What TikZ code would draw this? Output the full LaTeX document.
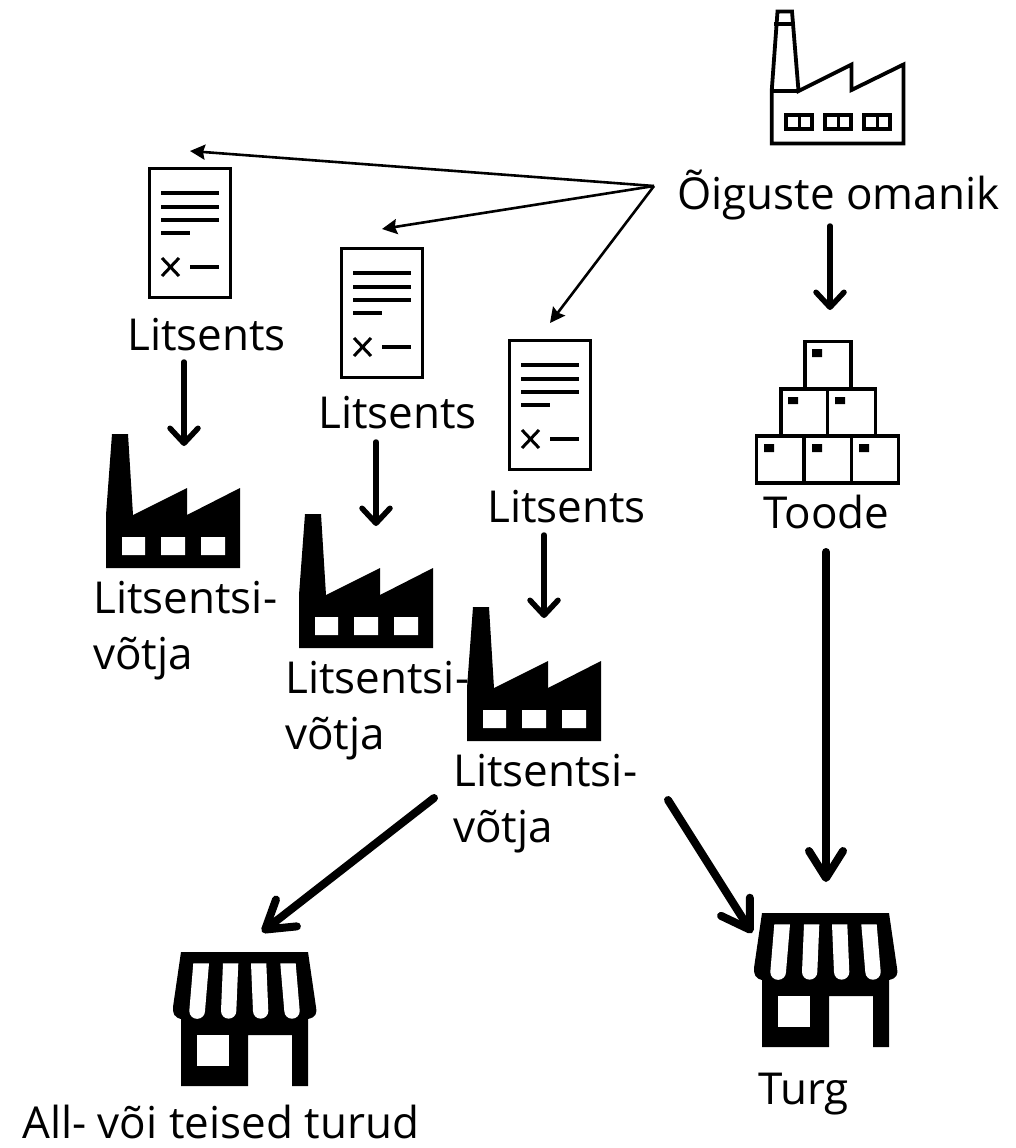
\documentclass[tikz,border=0pt]{standalone}
\usepackage{fontspec}
\setmainfont{Open Sans}
\usetikzlibrary{arrows.meta}
\tikzset{
  x=1pt,y=-1pt,
  label text/.style={font=\fontsize{44}{56}\selectfont,inner sep=0pt,anchor=base west,align=left},
  thinarrow/.style={line width=2.6pt,-{Stealth[length=15pt,width=15pt,inset=2pt]}},
  midarrow/.style={line width=5.5pt,line cap=round,-{Straight Barb[length=15pt,width=28pt,round]}},
  bigarrow/.style={line width=8pt,line cap=round,-{Straight Barb[length=27pt,width=34pt,round]}},
  outl/.style={draw=black,line width=3.8pt,line join=miter},
  docline/.style={draw=black,line width=4pt},
  pics/factory/.style={code={
    \fill[black] (6,0) -- (22,0) -- (27,81) -- (81,54) -- (81,81) -- (134,54) -- (134,134) -- (0,134) -- (0,81) -- cycle;
    \fill[white] (16,103) rectangle +(23,18) (55,103) rectangle +(24,18) (95,103) rectangle +(24,18);
  }},
  pics/licence/.style={code={
    \draw[outl,line width=3pt] (1.5,1.5) rectangle (82.5,130.5);
    \draw[docline] (13,26) -- (71,26) (13,40) -- (71,40) (13,53) -- (71,53) (13,66) -- (42,66) (42,100) -- (71,100);
    \draw[black,line width=3pt] (14,91) -- (31,109) (31,91) -- (14,109);
  }},
  pics/shop/.style={code={
    \fill[black] (8,0) -- (135,0) -- (143,55) .. controls (144,62) and (143,65) .. (135,67) -- (135,134) -- (119,134) -- (119,83) -- (75,83) -- (75,134) -- (8,134) -- (8,67) .. controls (1,65) and (0,62) .. (0,55) -- cycle;
    \fill[white] (24,83) rectangle (56,114);
    \fill[white] (20.3,11.3) -- (36,11.3) -- (32,59) arc (0:180:7.85) -- cycle;
    \fill[white] (50,11.3) -- (65.3,11.3) -- (63.3,59) arc (0:180:7.65) -- cycle;
    \fill[white] (78,11.3) -- (93.3,11.3) -- (95.3,59) arc (0:180:7.65) -- cycle;
    \fill[white] (107.3,11.3) -- (122.7,11.3) -- (126.7,59) arc (0:180:7.7) -- cycle;
  }},
}
\begin{document}
\begin{tikzpicture}
\useasboundingbox (0,0) rectangle (1016,1148);
% owner factory
\draw[outl] (777.5,11.5) -- (792,11.5) -- (798.5,91) -- (851.5,64.5) -- (851.5,90) -- (903.5,64.5) -- (903.5,143.5) -- (771.7,143.5) -- (771.7,91) -- cycle;
\draw[outl] (771.7,91) -- (798.5,91) (774,24) -- (795,24);
\foreach \x in {784,823,862}{
  \draw[outl,line width=4pt] (\x+2,115) rectangle +(26,14);
  \draw[black,line width=3pt] (\x+15,115) -- (\x+15,129);
}
% goods
\draw[outl,line width=3.4pt] (805,341.7) rectangle (851,389);
\draw[outl,line width=3.4pt] (780.8,389) rectangle (827.3,436) (827.3,389) rectangle (875.3,436);
\draw[outl,line width=3.4pt] (756.7,436) rectangle (804,483) (804,436) rectangle (851.3,483) (851.3,436) rectangle (898.3,483);
\fill[black] (812,349) rectangle +(10,8)
  (788,397) rectangle +(10,7) (835,397) rectangle +(10,7)
  (764,444) rectangle +(10,8) (812,444) rectangle +(10,8) (859,444) rectangle +(10,8);
% licences
\pic at (148,167) {licence};
\pic at (340,247) {licence};
\pic at (508,339) {licence};
% licensee factories
\pic at (106,434) {factory};
\pic at (299,514) {factory};
\pic at (467,607) {factory};
% shops
\pic at (754,913) {shop};
\pic at (173,952) {shop};
% texts
\node[label text] (owner) at (677,209) {Õiguste omanik};
\node[label text] (lic1) at (127,350) {Litsents};
\node[label text] (lic2) at (318,428) {Litsents};
\node[label text] (lic3) at (487,522) {Litsents};
\node[label text] (toode) at (763,528) {Toode};
\node[label text] (lv1) at (93,669) {Litsentsi-\\võtja};
\node[label text] (lv2) at (285,749) {Litsentsi-\\võtja};
\node[label text] (lv3) at (453,842) {Litsentsi-\\võtja};
\node[label text] (turg) at (758,1104) {Turg};
\node[label text] (allturud) at (22,1138) {All- või teised turud};
% connector ends
\coordinate (o) at (654,186);
\coordinate (a1) at (190,151);
\coordinate (a2) at (382,229);
\coordinate (a3) at (550,323);
\coordinate (b1s) at (184,362); \coordinate (b1e) at (184,446);
\coordinate (b2s) at (376,442); \coordinate (b2e) at (376,526);
\coordinate (b3s) at (544,535); \coordinate (b3e) at (544,618);
\coordinate (b4s) at (830,226); \coordinate (b4e) at (830,310);
\coordinate (c1s) at (826,552); \coordinate (c1e) at (826,882);
\coordinate (c2s) at (434,798); \coordinate (c2e) at (262,932);
\coordinate (c3s) at (668,800); \coordinate (c3e) at (752,933);
\draw[thinarrow] (o) -- (a1);
\draw[thinarrow] (o) -- (a2);
\draw[thinarrow] (o) -- (a3);
\draw[midarrow] (b1s) -- (b1e);
\draw[midarrow] (b2s) -- (b2e);
\draw[midarrow] (b3s) -- (b3e);
\draw[midarrow] (b4s) -- (b4e);
\draw[bigarrow] (c1s) -- (c1e);
\draw[bigarrow] (c2s) -- (c2e);
\draw[bigarrow] (c3s) -- (c3e);
\end{tikzpicture}
\end{document}
